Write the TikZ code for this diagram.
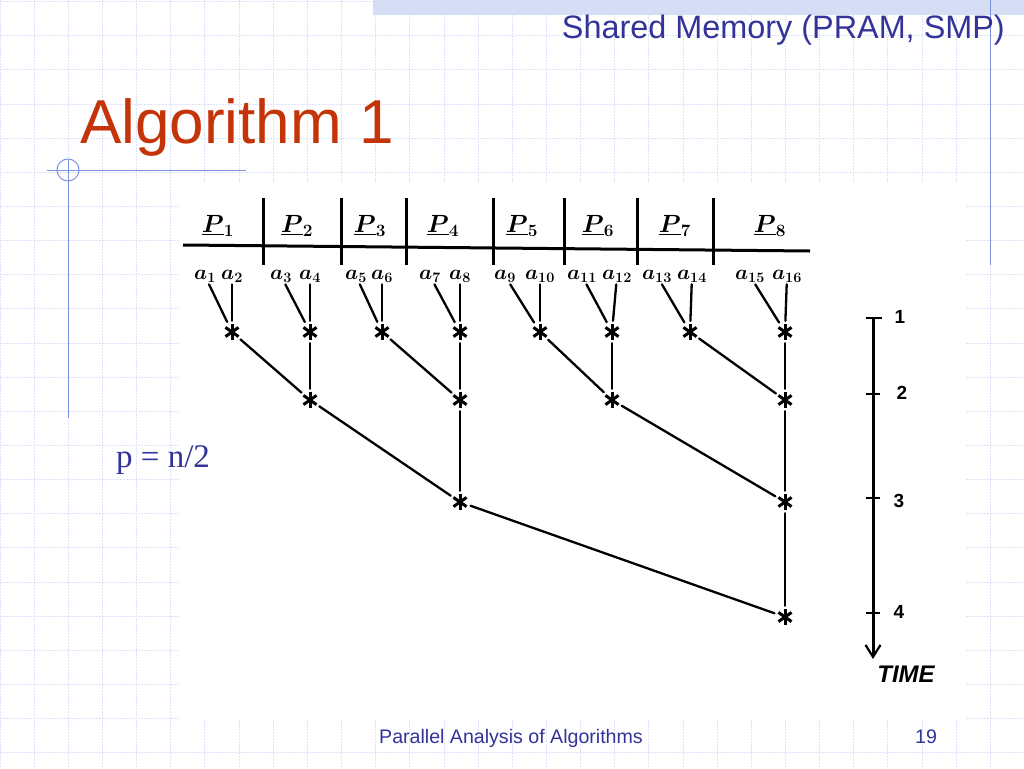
\documentclass[tikz,border=0pt]{standalone}
\usepackage{fontspec}
\setmainfont{Liberation Serif}
\setsansfont{Liberation Sans}
\usetikzlibrary{arrows.meta}
\definecolor{gridc}{RGB}{220,226,247}
\definecolor{slate}{RGB}{51,51,153}
\definecolor{titlered}{RGB}{196,52,8}
\definecolor{accent}{RGB}{125,145,225}
\definecolor{bandc}{RGB}{214,222,246}
\begin{document}
\begin{tikzpicture}[x=1pt,y=-1pt,
  gridline/.style={gridc, line width=0.9pt, dash pattern=on 2pt off 1pt},
  hand/.style={line width=2.3pt, line cap=round, black},
  bar/.style={line width=3pt, black},
  ast/.style={circle, inner sep=0pt, minimum size=22pt, path picture={
    \draw[line width=3pt] ([yshift=8pt]path picture bounding box.center) -- ([yshift=-8pt]path picture bounding box.center);
    \draw[line width=3pt] ([shift={(35:8pt)}]path picture bounding box.center) -- ([shift={(215:8pt)}]path picture bounding box.center);
    \draw[line width=3pt] ([shift={(145:8pt)}]path picture bounding box.center) -- ([shift={(325:8pt)}]path picture bounding box.center);}},
  alab/.style={font=\fontsize{20}{20}\selectfont\boldmath, inner sep=2pt},
  plab/.style={font=\fontsize{25}{25}\selectfont\boldmath, inner sep=1pt},
  tnum/.style={font=\fontsize{19}{19}\selectfont\sffamily\bfseries, inner sep=1pt},
]
\useasboundingbox (0,0) rectangle (1024,768);
\fill[white] (0,0) rectangle (1024,768);
% background grid
\foreach \i in {0,...,30} \draw[gridline] (34.15*\i,0) -- (34.15*\i,768);
\foreach \j in {0,...,22} \draw[gridline] (0,1.5+34.15*\j) -- (1024,1.5+34.15*\j);
% top band
\fill[bandc] (373,0) rectangle (1024,15);
% accent lines
\draw[accent, line width=1pt] (990,0) -- (990,265);
\draw[accent, line width=1pt] (47,170) -- (246,170);
\draw[accent, line width=1pt] (68,160) -- (68,418);
\draw[accent, line width=1pt] (68,170) circle (11);
% titles
\node[anchor=base east, inner sep=0pt, text=slate, font=\fontsize{32.4}{32.4}\selectfont\sffamily] (hdr) at (1005,38) {Shared Memory (PRAM, SMP)};
\node[anchor=base west, inner sep=0pt, text=titlered, font=\fontsize{62}{62}\selectfont\sffamily] (ttl) at (80,143) {Algorithm 1};
\node[anchor=base, inner sep=0pt, text=slate, font=\fontsize{19.6}{19.6}\selectfont\sffamily] (foot) at (511,743) {Parallel Analysis of Algorithms};
\node[anchor=base, inner sep=0pt, text=slate, font=\fontsize{19.6}{19.6}\selectfont\sffamily] (pg) at (926,743) {19};
% white image area
\fill[white] (180,183) rectangle (965,720);
\node[anchor=base west, inner sep=0pt, text=slate, font=\fontsize{33}{33}\selectfont] (pn) at (116,467) {p = n/2};
% processor header
\coordinate (hl) at (183,245);
\coordinate (hr) at (810,251);
\draw[bar] (hl) -- (hr);
\foreach \x [count=\k] in {263,341,406,493,564,637,713} {
  \coordinate (st\k) at (\x,198);
  \coordinate (sb\k) at (\x,265);
  \draw[bar] (st\k) -- (sb\k);
}
\foreach \x/\k in {218/1,297/2,370/3,443/4,522/5,598/6,675/7,770/8}
  \node[plab] (P\k) at (\x,226) {$\underline{P}_{\k}$};
% leaves
\foreach \x/\k in {205/1,232/2,281/3,310/4,356/5,382/6,430/7,460/8,505/9,540/10,582/11,617/12,657/13,692/14,750/15,787/16}
  \node[alab] (a\k) at (\x,276) {$a_{\k}$};
% stars
\foreach \x/\k in {232/1,310/2,382/3,460/4,540/5,612/6,690/7,785/8}
  \node[ast] (s1\k) at (\x,332) {};
\foreach \x/\k in {310/1,460/2,612/3,785/4}
  \node[ast] (s2\k) at (\x,400) {};
\foreach \x/\k in {460/1,785/2}
  \node[ast] (s3\k) at (\x,502) {};
\node[ast] (s41) at (785,617) {};
% edges leaves -> level 1
\foreach \k in {1,...,8} {
  \pgfmathtruncatemacro{\odd}{2*\k-1}
  \pgfmathtruncatemacro{\even}{2*\k}
  \draw[hand] (a\odd) -- (s1\k);
  \draw[hand] (a\even) -- (s1\k);
}
% level 1 -> level 2
\foreach \k in {1,...,4} {
  \pgfmathtruncatemacro{\odd}{2*\k-1}
  \pgfmathtruncatemacro{\even}{2*\k}
  \draw[hand] (s1\odd) -- (s2\k);
  \draw[hand] (s1\even) -- (s2\k);
}
% level 2 -> level 3
\draw[hand] (s21) -- (s31);
\draw[hand] (s22) -- (s31);
\draw[hand] (s23) -- (s32);
\draw[hand] (s24) -- (s32);
% level 3 -> level 4
\draw[hand] (s31) -- (s41);
\draw[hand] (s32) -- (s41);
% time axis
\coordinate (ttop) at (873,317);
\coordinate (tbot) at (873,659);
\draw[line width=3pt, -{Straight Barb[length=12pt,width=15pt,line width=2.2pt]}] (ttop) -- (tbot);
\coordinate (k1l) at (866,318); \coordinate (k1r) at (882,318);
\coordinate (k2l) at (866,394); \coordinate (k2r) at (880,394);
\coordinate (k3l) at (866,498); \coordinate (k3r) at (880,498);
\coordinate (k4l) at (866,613); \coordinate (k4r) at (880,613);
\foreach \k in {1,...,4} \draw[line width=2.6pt] (k\k l) -- (k\k r);
\node[tnum] (n1) at (900,317) {1};
\node[tnum] (n2) at (902,393) {2};
\node[tnum] (n3) at (899,501) {3};
\node[tnum] (n4) at (899,612) {4};
\node[font=\fontsize{24}{24}\selectfont\sffamily\bfseries\itshape, inner sep=0pt] (time) at (906,674) {TIME};
\end{tikzpicture}
\end{document}
